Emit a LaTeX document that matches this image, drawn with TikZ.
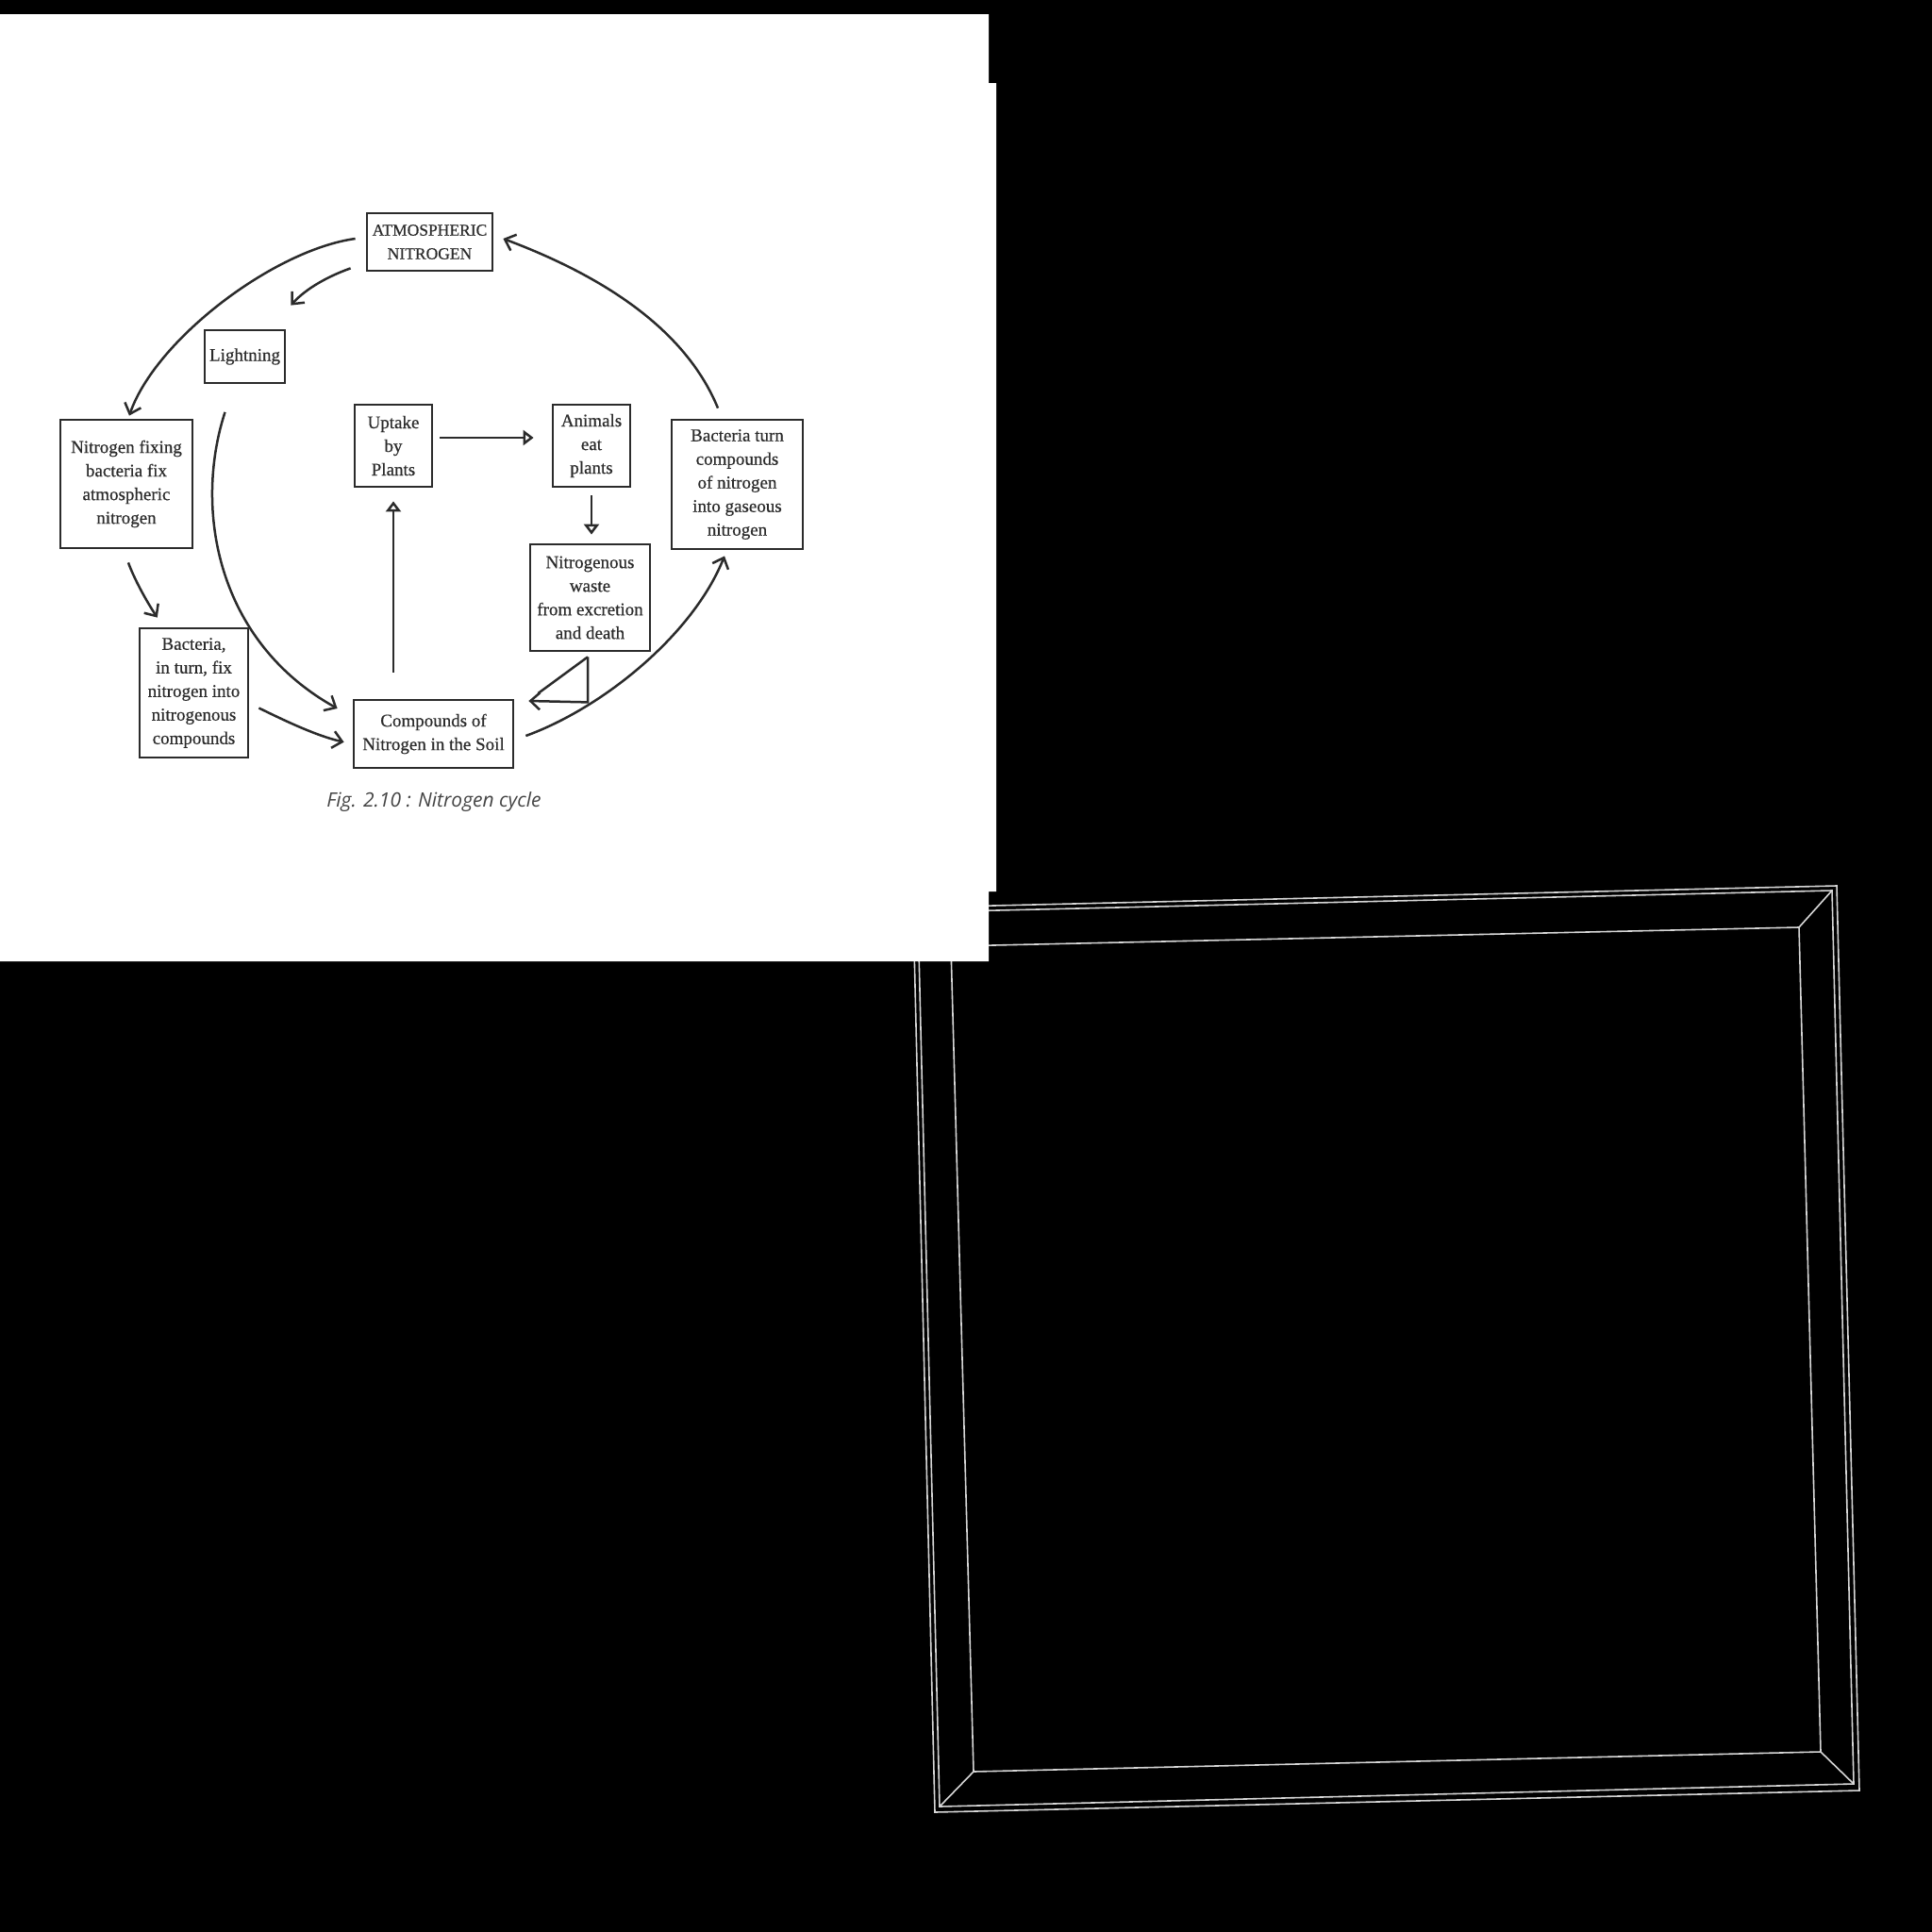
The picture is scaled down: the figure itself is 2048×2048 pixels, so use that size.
\documentclass[tikz,border=0pt]{standalone}
\usepackage{fontspec}
\setmainfont{Liberation Serif}[UprightFeatures={FakeBold=0.5}]
\newfontfamily\capfont{Open Sans}
\usetikzlibrary{arrows.meta}
\definecolor{tinta}{HTML}{2B2B2B}
\definecolor{moldura}{HTML}{D6D6D6}
\definecolor{legenda}{HTML}{454545}

\begin{document}
\begin{tikzpicture}[x=1pt, y=-1pt,
  bx/.style={draw=tinta, line width=2.8pt, align=center, inner sep=0pt, text=tinta, font=\fontsize{19pt}{25pt}\selectfont},
  flow/.style={draw=tinta, line width=2.5pt, -{Straight Barb[length=10pt, width=18pt]}},
  hollow/.style={draw=tinta, line width=2.5pt, -{Triangle[open, length=11pt, width=16pt]}},
  rim/.style={draw=moldura, line width=1.6pt}]
  \useasboundingbox (0,0) rectangle (2048,2048);
  \fill[black] (0,0) rectangle (2048,2048);
  % tilted frame, lower right
  \draw[rim] (968,962) -- (1947,939) -- (1971,1898) -- (991,1921) -- cycle;
  \draw[rim] (973,967) -- (1942,944) -- (1965,1891) -- (996,1915) -- cycle;
  \draw[rim] (1008,1003) -- (1907,983) -- (1930,1857) -- (1032,1878) -- cycle;
  \draw[rim] (973,967) -- (1008,1003) (1942,944) -- (1907,983) (1965,1891) -- (1930,1857) (996,1915) -- (1032,1878);
  % page
  \fill[white] (0,15) -- (1048,15) -- (1048,88) -- (1056,88) -- (1056,945) -- (1048,945) -- (1048,1019) -- (0,1019) -- cycle;

  \node[bx, minimum width=133pt, minimum height=61pt, font=\fontsize{17.5pt}{25pt}\selectfont] (atm) at (455.5,256.5) {ATMOSPHERIC\\NITROGEN};
  \node[bx, minimum width=85pt, minimum height=56pt] (light) at (259.5,378) {Lightning};
  \node[bx, minimum width=140pt, minimum height=136pt] (nfix) at (134,513) {Nitrogen fixing\\bacteria fix\\atmospheric\\nitrogen};
  \node[bx, minimum width=115pt, minimum height=137pt] (bact) at (205.5,734.5) {Bacteria,\\in turn, fix\\nitrogen into\\nitrogenous\\compounds};
  \node[bx, minimum width=169pt, minimum height=72pt] (soil) at (459.5,778) {Compounds of\\Nitrogen in the Soil};
  \node[bx, minimum width=82pt, minimum height=87pt] (uptake) at (417,472.5) {Uptake\\by\\Plants};
  \node[bx, minimum width=82pt, minimum height=87pt] (animals) at (627,472.5) {Animals\\eat\\plants};
  \node[bx, minimum width=127pt, minimum height=113pt] (waste) at (625.5,633.5) {Nitrogenous\\waste\\from excretion\\and death};
  \node[bx, minimum width=139pt, minimum height=137pt] (gas) at (781.5,513.5) {Bacteria turn\\compounds\\of nitrogen\\into gaseous\\nitrogen};
  \node[text=legenda, font=\capfont\itshape\fontsize{21pt}{25pt}\selectfont] (fig) at (460,850) {Fig. 2.10 : Nitrogen cycle};

  % outer cycle
  \draw[flow] ([shift={(-11,-3.5)}]atm.west) .. controls (290,265) and (165,360) .. ([shift={(3,-3)}]nfix.north);
  \draw[flow] ([shift={(-16,-4)}]atm.south west) .. controls (350,292) and (325,305) .. ([shift={(5,-25)}]light.north east);
  \draw[flow] ([shift={(-21,29.5)}]light.south) .. controls (205,540) and (230,680) .. ([shift={(-16,-27)}]soil.west);
  \draw[flow] ([shift={(2,14)}]nfix.south) .. controls (142,613) and (155,637) .. ([shift={(-38.7,-10)}]bact.north);
  \draw[flow] ([shift={(10,16)}]bact.east) .. controls (300,763) and (335,780) .. ([shift={(-9,8.6)}]soil.west);
  \draw[flow] ([shift={(12,2)}]soil.east) .. controls (640,750) and (735,672) .. ([shift={(-13.5,6)}]gas.south);
  \draw[flow] ([shift={(-20.5,-11)}]gas.north) .. controls (725,345) and (632,290) .. ([shift={(10,-3.5)}]atm.east);

  % inner loop
  \draw[hollow] ([shift={(-42.5,-28)}]soil.north) -- ([shift={(0,14)}]uptake.south);
  \draw[hollow] ([shift={(7,-8.5)}]uptake.east) -- ([shift={(-19,-8.5)}]animals.west);
  \draw[hollow] ([shift={(0,8)}]animals.south) -- ([shift={(1.5,-9)}]waste.north);
  \draw[flow] ([shift={(-2.5,5)}]waste.south) -- ++(0,48) -- ([shift={(15,-35)}]soil.east);
  \draw[tinta, line width=2.5pt] ([shift={(-2.5,5)}]waste.south) -- ([shift={(25,-43)}]soil.east);
\end{tikzpicture}
\end{document}
